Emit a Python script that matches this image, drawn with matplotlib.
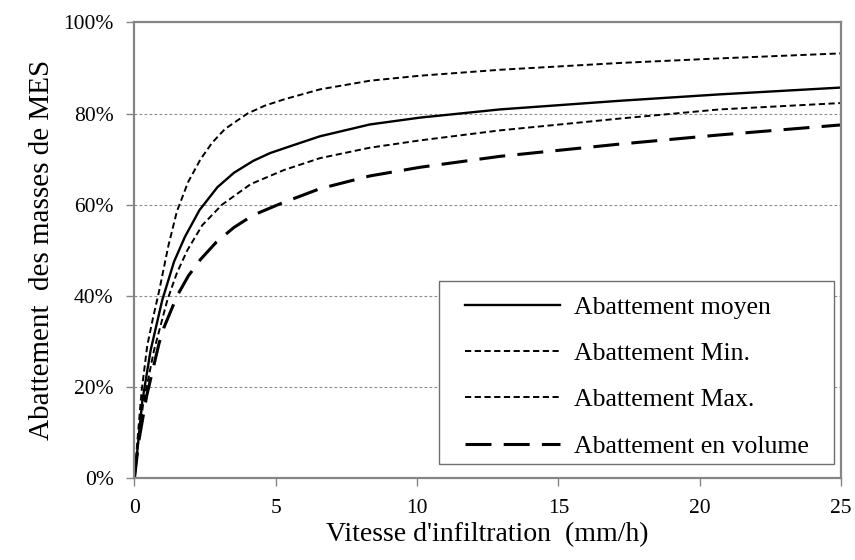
import matplotlib
matplotlib.use("Agg")
import matplotlib.pyplot as plt
from matplotlib.patches import Rectangle

plt.rcParams["font.family"] = ["Liberation Serif", "DejaVu Serif"]

# values (x in mm/h, y in %)
x_moyen = [0, 0.1, 0.28, 0.57, 0.98, 1.4, 1.79, 2.3, 2.93, 3.52, 4.2, 4.79, 5.5,
           6.56, 8.33, 10.1, 12.93, 17.18, 20.7, 25]
y_moyen = [0, 6, 17, 28, 39, 47.5, 53, 58.8, 63.8, 67, 69.6, 71.3, 72.8,
           75, 77.6, 79.1, 80.9, 82.8, 84.2, 85.7]

x_min = [0, 0.1, 0.3, 0.69, 1.16, 1.5, 1.87, 2.4, 3.1, 4.11, 5.29, 6.56, 8.33,
         10.1, 12.93, 17.18, 20.7, 25]
y_min = [0, 6, 16, 28, 39, 45, 50, 55.5, 60, 64.5, 67.6, 70.2, 72.5,
         74.1, 76.3, 78.9, 80.9, 82.3]

x_max = [0, 0.1, 0.25, 0.45, 0.65, 0.87, 1.2, 1.5, 1.9, 2.34, 2.75, 3.2, 4, 4.6,
         5.29, 6.56, 8.33, 10.1, 12.93, 17.18, 20.7, 25]
y_max = [0, 8, 19, 29, 35, 41, 51, 58.5, 65, 70, 73.6, 76.6, 80, 81.7,
         83.1, 85.3, 87.2, 88.3, 89.6, 91.1, 92.1, 93.2]

x_vol = [0, 0.15, 0.43, 0.87, 1.04, 1.51, 1.9, 2.34, 2.9, 3.52, 4.2, 5.2, 6.56,
         8.33, 10.1, 12.93, 17.18, 20.7, 25]
y_vol = [0, 8, 18, 29.6, 33, 40, 44.3, 48, 51.8, 55, 57.7, 60.3, 63.5,
         66.3, 68.2, 70.6, 73.3, 75.3, 77.5]

labels = ["Abattement moyen", "Abattement Min.", "Abattement Max.",
          "Abattement en volume"]
x_ticks = [0, 5, 10, 15, 20, 25]
y_ticks = [0, 20, 40, 60, 80, 100]
y_tick_labels = ["0%", "20%", "40%", "60%", "80%", "100%"]

fig = plt.figure(figsize=(8.55, 5.6), dpi=100)
ax = fig.add_axes([0.1573, 0.1464, 0.8263, 0.8136])

ax.plot(x_moyen, y_moyen, color="black", lw=1.7, label=labels[0])
ax.plot(x_min, y_min, color="black", lw=1.4, dashes=(3.2, 1.8), label=labels[1])
ax.plot(x_max, y_max, color="black", lw=1.4, dashes=(3.2, 1.8), label=labels[2])
ax.plot(x_vol, y_vol, color="black", lw=2.2, dashes=(8.5, 4), label=labels[3])

ax.set_xlim(0, 25)
ax.set_ylim(0, 100)
ax.set_xticks(x_ticks)
ax.set_yticks(y_ticks)
ax.set_yticklabels(y_tick_labels)

for y in y_ticks[1:-1]:
    ax.axhline(y, color="#8c8c8c", lw=0.8, dashes=(2.5, 2), zorder=0)

for s in ax.spines.values():
    s.set_color("#858585")
    s.set_linewidth(1.6)

ax.tick_params(axis="both", direction="out", length=6, width=1, color="#858585",
               labelsize=15.5, pad=9)

ax.set_xlabel("Vitesse d'infiltration  (mm/h)", fontsize=20, labelpad=3)
ax.set_ylabel("Abattement  des masses de MES", fontsize=21, labelpad=6)

# legend box drawn separately so the entries can sit inset like the original
ax.add_patch(Rectangle((0.431, 0.0307), 0.559, 0.4017, transform=ax.transAxes,
                       facecolor="white", edgecolor="#707070", lw=1.0, zorder=4))
leg = ax.legend(loc="upper left", bbox_to_anchor=(0.4678, 0.399),
                fontsize=18.5, handlelength=3.7, handletextpad=0.55,
                labelspacing=0.9, borderpad=0, borderaxespad=0, frameon=False)
leg.set_zorder(5)

plt.savefig("out.png", dpi=100)
